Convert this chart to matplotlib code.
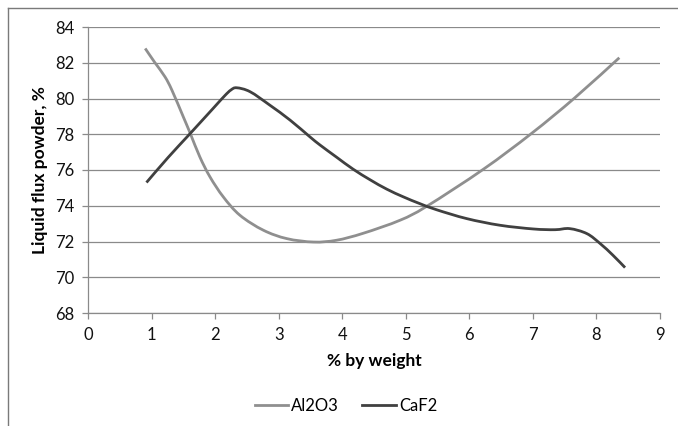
import matplotlib
matplotlib.use("Agg")
import matplotlib.pyplot as plt
from matplotlib.lines import Line2D
from matplotlib.path import Path
from matplotlib.patches import PathPatch

plt.rcParams['font.family'] = ['Lato', 'DejaVu Sans']

# Data
al2o3_x = [0.90, 1.05, 1.21, 1.32, 1.50, 1.61, 1.76, 1.92, 2.13, 2.39, 2.76, 3.13, 3.55,
           3.91, 4.33, 4.91, 5.33, 6.22, 6.98, 7.66, 8.36]
al2o3_y = [82.80, 82.02, 81.22, 80.47, 78.97, 78.04, 76.73, 75.61, 74.49, 73.47, 72.63, 72.16, 71.97,
           72.07, 72.46, 73.19, 73.97, 76.04, 78.05, 80.04, 82.28]

caf2_x = [0.92, 1.26, 1.61, 1.97, 2.15, 2.25, 2.34, 2.55, 2.86, 3.18, 3.49, 3.65, 3.91,
          4.17, 4.44, 4.70, 4.96, 5.22, 5.49, 5.96, 6.48, 7.01, 7.35, 7.58, 7.85, 8.06, 8.26, 8.45]
caf2_y = [75.30, 76.70, 78.05, 79.45, 80.15, 80.48, 80.60, 80.38, 79.63, 78.79, 77.86, 77.40, 76.72,
          76.05, 75.45, 74.93, 74.50, 74.12, 73.77, 73.28, 72.91, 72.70, 72.66, 72.72, 72.44, 71.88, 71.23, 70.54]

series_names = ["Al2O3", "CaF2"]
x_ticks = list(range(0, 10))
y_ticks = list(range(68, 86, 2))


def smooth_path(xs, ys):
    """Excel-like smoothed line: Catmull-Rom segments rendered as cubic Beziers."""
    pts = list(zip(xs, ys))
    n = len(pts)
    verts = [pts[0]]
    codes = [Path.MOVETO]
    for i in range(n - 1):
        p0 = pts[i - 1] if i > 0 else pts[i]
        p1 = pts[i]
        p2 = pts[i + 1]
        p3 = pts[i + 2] if i + 2 < n else pts[i + 1]
        c1 = (p1[0] + (p2[0] - p0[0]) / 6.0, p1[1] + (p2[1] - p0[1]) / 6.0)
        c2 = (p2[0] - (p3[0] - p1[0]) / 6.0, p2[1] - (p3[1] - p1[1]) / 6.0)
        verts += [c1, c2, p2]
        codes += [Path.CURVE4] * 3
    return Path(verts, codes)


W, H = 678, 426
fig = plt.figure(figsize=(W / 100, H / 100), dpi=100)

# outer chart frame (Excel style, partly cropped)
fig.add_artist(Line2D([8 / W, 8 / W], [0, 1 - 8 / H], transform=fig.transFigure,
                      color="#7a7a7a", lw=1.0))
fig.add_artist(Line2D([8 / W, 1], [1 - 8 / H, 1 - 8 / H], transform=fig.transFigure,
                      color="#7a7a7a", lw=1.0))

ax = fig.add_axes([88 / W, 1 - 313 / H, (660 - 88) / W, (313 - 27) / H])
c_al = "#8f8f8f"
c_ca = "#404040"
lw = 2.0
ax.add_patch(PathPatch(smooth_path(al2o3_x, al2o3_y), fill=False, edgecolor=c_al, lw=lw,
                       capstyle="butt", joinstyle="round", zorder=3))
ax.add_patch(PathPatch(smooth_path(caf2_x, caf2_y), fill=False, edgecolor=c_ca, lw=lw,
                       capstyle="butt", joinstyle="round", zorder=3))

ax.set_xlim(0, 9)
ax.set_ylim(68, 84)
ax.set_xticks(x_ticks)
ax.set_yticks(y_ticks)
ax.grid(axis="y", color="#8a8a8a", lw=0.9)
ax.set_axisbelow(True)
for s in ["top", "right"]:
    ax.spines[s].set_visible(False)
for s in ["left", "bottom"]:
    ax.spines[s].set_color("#8a8a8a")
    ax.spines[s].set_linewidth(0.9)
ax.tick_params(axis="both", direction="out", length=4, width=0.9, color="#8a8a8a",
               labelsize=12, labelcolor="#111111")
ax.tick_params(axis="y", pad=6)
ax.tick_params(axis="x", pad=6)

ax.set_xlabel("% by weight", fontsize=12.5, fontweight="bold", labelpad=7)
ax.set_ylabel("Liquid flux powder, %", fontsize=12.5, fontweight="bold", labelpad=5)

handles = [Line2D([], [], color=c_al, lw=lw), Line2D([], [], color=c_ca, lw=lw)]
fig.legend(handles, series_names, loc="center", bbox_to_anchor=(346 / W, 1 - 406 / H),
           ncol=2, frameon=False, fontsize=12, handlelength=2.0, handletextpad=0.2,
           columnspacing=1.4)

fig.savefig("out.png", dpi=100)
